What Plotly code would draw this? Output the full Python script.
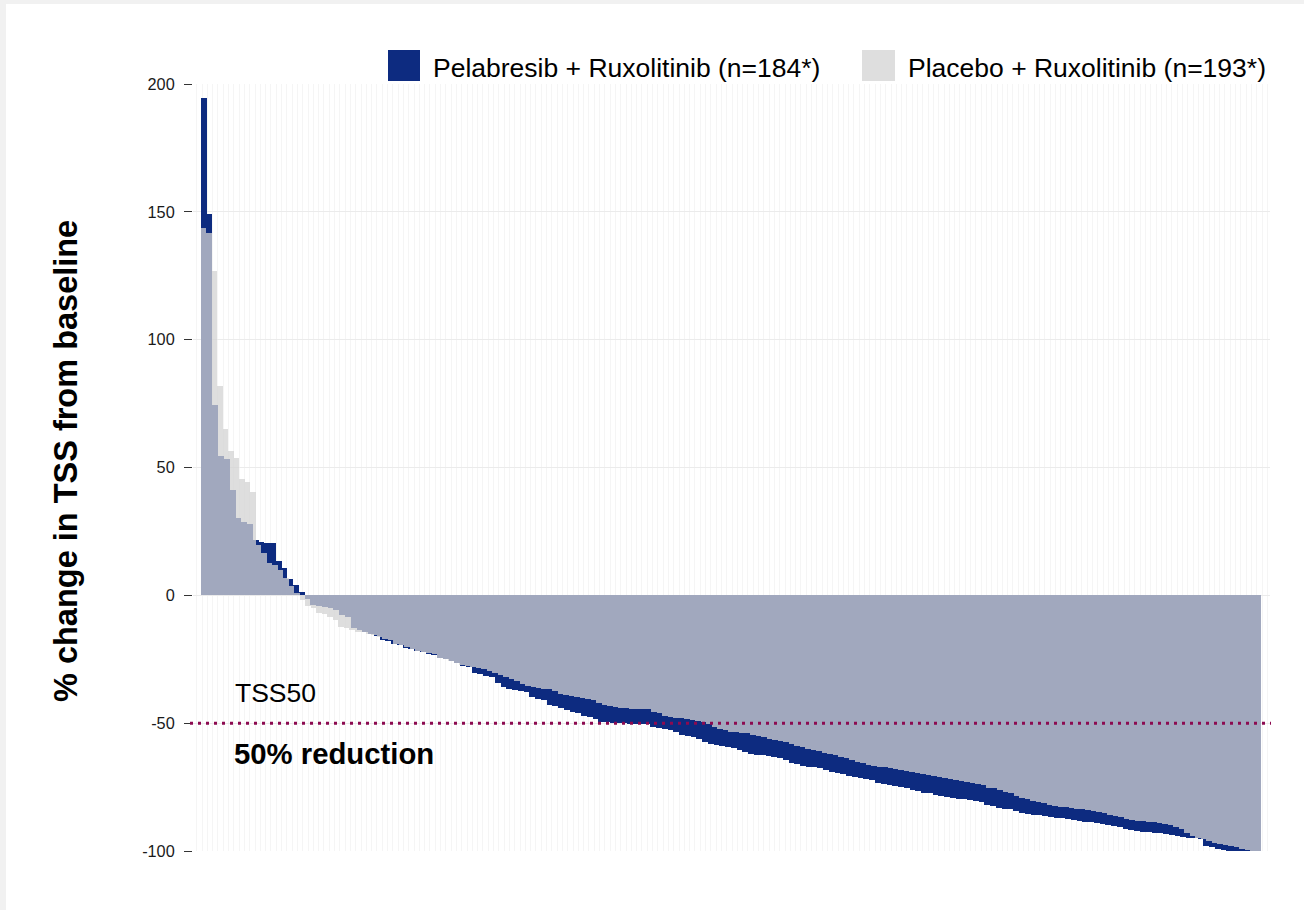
import numpy as np
import plotly.graph_objects as go

# ---------------- data ----------------
pela_label = "Pelabresib + Ruxolitinib (n=184*)"
plac_label = "Placebo + Ruxolitinib (n=193*)"

pelabresib = [
    194.5, 149.0, 74.6, 54.5, 53.5, 41.3, 30.2, 28.5, 28.0, 21.7,
    21.0, 20.6, 20.4, 13.5, 10.5, 6.5, 4.0, 1.5, -1.5, -3.7,
    -4.2, -4.6, -5.0, -5.6, -7.5, -8.5, -12.8, -13.5, -14.5, -15.2,
    -16.0, -17.5, -18.0, -19.0, -19.5, -20.7, -21.0, -21.6, -22.0, -22.8,
    -23.5, -24.6, -25.0, -25.5, -26.3, -27.5, -28.2, -30.2, -30.8, -31.5,
    -31.8, -34.4, -35.9, -36.5, -37.0, -37.5, -38.0, -39.8, -40.5, -40.9,
    -42.9, -43.3, -44.1, -44.8, -45.5, -46.1, -47.0, -47.5, -48.4, -49.4,
    -49.6, -49.8, -50.0, -50.1, -50.2, -50.3, -50.3, -50.5, -51.4, -51.8,
    -52.2, -52.6, -53.5, -54.6, -55.0, -55.5, -56.2, -57.5, -58.0, -58.5,
    -58.9, -59.3, -59.8, -60.5, -61.2, -62.0, -62.3, -62.6, -62.8, -63.3,
    -63.7, -64.5, -65.4, -66.0, -66.7, -67.0, -67.3, -67.6, -68.3, -69.0,
    -69.5, -70.0, -70.6, -71.2, -71.5, -71.9, -72.2, -73.5, -73.9, -74.3,
    -74.6, -75.0, -75.5, -76.0, -76.5, -77.2, -77.5, -78.0, -78.4, -78.7,
    -79.1, -79.5, -79.8, -80.1, -80.4, -80.7, -82.0, -82.4, -83.0, -83.4,
    -83.7, -84.3, -85.2, -85.5, -85.8, -86.0, -86.3, -86.6, -86.9, -87.2,
    -87.6, -87.9, -88.2, -88.5, -88.8, -89.1, -89.4, -89.8, -90.3, -90.8,
    -91.3, -91.8, -92.1, -92.4, -92.7, -93.0, -93.1, -93.5, -93.8, -94.1,
    -94.5, -95.0, -95.0, -95.2, -98.0, -98.3, -99.3, -99.5, -99.9, -100.0,
    -100.0, -100.0, -100.0, -100.0,
]

placebo = [
    143.7, 141.8, 126.7, 82.0, 65.0, 56.5, 53.7, 45.6, 44.2, 40.4,
    19.5, 16.5, 12.5, 12.0, 10.0, 6.7, 3.7, 1.0, -1.8, -4.0,
    -5.0, -7.0, -7.4, -8.3, -9.5, -12.5, -12.8, -13.5, -14.2, -14.5,
    -15.2, -15.5, -16.4, -17.0, -17.4, -19.0, -19.5, -20.3, -21.0, -21.6,
    -22.0, -22.5, -22.9, -24.6, -25.0, -25.5, -26.5, -27.2, -27.5, -28.1,
    -28.5, -29.0, -29.4, -30.5, -31.1, -32.0, -32.8, -33.5, -34.5, -35.4,
    -35.8, -36.2, -36.5, -36.7, -37.5, -38.6, -39.0, -39.5, -39.8, -40.2,
    -40.6, -40.9, -42.0, -42.9, -43.4, -43.7, -43.9, -44.2, -44.3, -44.4,
    -44.5, -44.5, -45.5, -46.1, -47.0, -47.4, -47.8, -48.1, -48.4, -48.6,
    -49.0, -49.4, -50.5, -51.5, -52.2, -52.8, -53.3, -53.5, -53.8, -53.9,
    -54.5, -55.0, -55.5, -56.0, -56.4, -56.8, -57.5, -58.2, -58.8, -59.2,
    -60.0, -60.4, -61.0, -61.5, -62.0, -62.5, -63.2, -63.7, -64.5, -65.2,
    -65.7, -66.2, -66.7, -67.0, -67.3, -67.6, -68.0, -68.4, -68.8, -69.0,
    -69.4, -69.8, -70.3, -70.7, -71.1, -71.5, -71.8, -72.2, -72.5, -72.9,
    -73.3, -73.8, -74.2, -75.2, -75.5, -76.3, -77.0, -77.4, -78.5, -79.4,
    -79.8, -80.3, -80.8, -81.4, -82.0, -82.3, -82.6, -82.9, -83.1, -83.4,
    -83.7, -84.0, -84.3, -84.6, -85.2, -85.8, -86.3, -86.8, -87.3, -87.9,
    -88.2, -88.4, -88.6, -88.8, -88.9, -89.4, -89.9, -90.5, -91.5, -93.0,
    -94.1, -94.8, -95.4, -96.0, -96.7, -97.3, -97.8, -98.2, -98.6, -99.2,
    -99.6, -100.0, -100.0,
]

y_ticks = [-100, -50, 0, 50, 100, 150, 200]
threshold = -50
threshold_label_top = "TSS50"
threshold_label_bottom = "50% reduction"
y_title = "% change in TSS from baseline"

# ---------------- style ----------------
BLUE = "#0D2B80"
GRAY = "rgba(211,211,211,0.75)"
MAROON = "#8C0A50"
FONT = "Liberation Sans, Arial, Helvetica, sans-serif"

W_PX, H_PX = 1304, 910
L, R, T, B = 193, 1270, 84, 851
PW, PH = R - L, B - T


def px_x(p):
    return (p - L) / PW


def px_y(p):
    return (B - p) / PH


def positions(vals):
    n = len(vals)
    return (np.arange(n) + 0.5) * 100.0 / n, 100.0 / n


xb, wb = positions(pelabresib)
xp, wp = positions(placebo)

fig = go.Figure()
fig.add_trace(go.Bar(x=xb, y=pelabresib, width=wb, name=pela_label,
                     marker=dict(color=BLUE, line=dict(width=0)),
                     showlegend=False))
fig.add_trace(go.Bar(x=xp, y=placebo, width=wp, name=plac_label,
                     marker=dict(color=GRAY, line=dict(width=0)),
                     showlegend=False))

shapes = [
    # outer frame (white page on light gray)
    dict(type="rect", xref="paper", yref="paper", layer="below",
         x0=px_x(6), x1=px_x(W_PX + 2), y0=px_y(H_PX + 2), y1=px_y(4),
         fillcolor="white", line=dict(width=0)),
    # threshold line
    dict(type="line", xref="paper", yref="y", layer="above",
         x0=px_x(190), x1=px_x(1271), y0=threshold, y1=threshold,
         line=dict(color=MAROON, width=3, dash="3px,5px")),
    # legend swatches
    dict(type="rect", xref="paper", yref="paper",
         x0=px_x(388), x1=px_x(420), y0=px_y(81), y1=px_y(50),
         fillcolor=BLUE, line=dict(width=0)),
    dict(type="rect", xref="paper", yref="paper",
         x0=px_x(862), x1=px_x(895), y0=px_y(81), y1=px_y(50),
         fillcolor=GRAY, line=dict(width=0)),
]

annotations = [
    dict(text=pela_label, xref="paper", yref="paper", x=px_x(431), y=px_y(67.5),
         xanchor="left", yanchor="middle", showarrow=False,
         font=dict(family=FONT, size=26.5, color="#000000")),
    dict(text=plac_label, xref="paper", yref="paper", x=px_x(906), y=px_y(67.5),
         xanchor="left", yanchor="middle", showarrow=False,
         font=dict(family=FONT, size=26.5, color="#000000")),
    dict(text=threshold_label_top, xref="paper", yref="paper", x=px_x(233), y=px_y(693),
         xanchor="left", yanchor="middle", showarrow=False,
         font=dict(family=FONT, size=26.5, color="#000000")),
    dict(text="<b>" + threshold_label_bottom + "</b>", xref="paper", yref="paper",
         x=px_x(232), y=px_y(753), xanchor="left", yanchor="middle", showarrow=False,
         font=dict(family=FONT, size=29.3, color="#000000")),
    dict(text="<b>" + y_title + "</b>", xref="paper", yref="paper",
         x=px_x(66), y=px_y(461), xanchor="center", yanchor="middle",
         textangle=-90, showarrow=False,
         font=dict(family=FONT, size=32.5, color="#000000")),
]

fig.update_layout(
    width=W_PX, height=H_PX,
    margin=dict(l=L, r=W_PX - R, t=T, b=H_PX - B, pad=0),
    paper_bgcolor="#F1F1F1", plot_bgcolor="white",
    barmode="overlay", bargap=0,
    showlegend=False, hovermode=False,
    shapes=shapes, annotations=annotations,
    font=dict(family=FONT, color="#1A1A1A"),
)
fig.update_xaxes(range=[-0.75, 100.85], showticklabels=False, ticks="",
                 showline=False, zeroline=False, showgrid=True,
                 tickmode="linear", tick0=0.1, dtick=0.5,
                 gridcolor="#F5F5F5", gridwidth=1)
fig.update_yaxes(range=[-100, 200], tickvals=y_ticks,
                 ticktext=[str(v) for v in y_ticks],
                 ticks="outside", ticklen=8, tickwidth=1, tickcolor="#333333",
                 ticklabelstandoff=6,
                 tickfont=dict(family=FONT, size=16.3, color="#1A1A1A"),
                 showline=False, zeroline=False, showgrid=True,
                 gridcolor="#EBEBEB", gridwidth=1)

fig.write_html(
    "out.html",
    config={"displayModeBar": False},
    post_script="document.body.style.margin='0';document.body.style.overflow='hidden';",
)
